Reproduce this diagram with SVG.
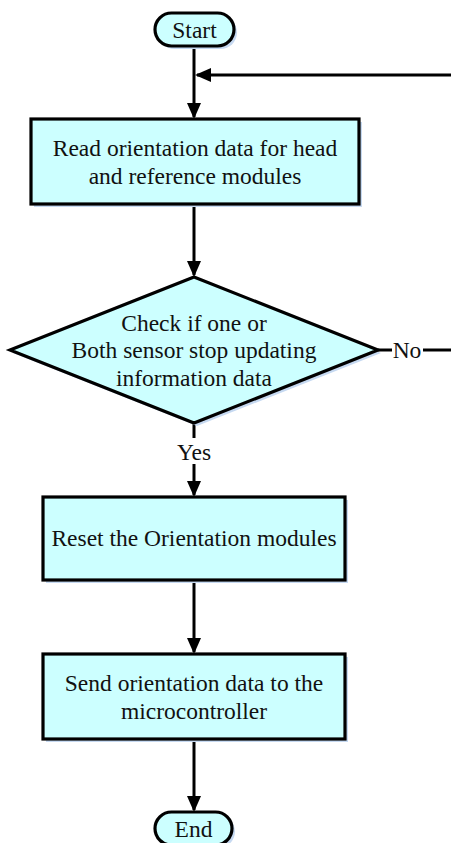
<svg xmlns="http://www.w3.org/2000/svg" width="451" height="843" viewBox="0 0 451 843">
<defs>
<style>
.shape{fill:#ccffff;stroke:#000;stroke-width:3.2}
.shadow{fill:#c6d9f1;stroke:none}
.t{font-family:"Liberation Serif","Times New Roman",serif;font-size:23.5px;fill:#111;text-anchor:middle}
.c{stroke:#000;stroke-width:3;fill:none}
</style>
<marker id="ah" markerWidth="16" markerHeight="14" refX="14" refY="7" orient="auto" markerUnits="userSpaceOnUse" viewBox="0 0 16 14">
<path d="M0,0 L16,7 L0,14 Z" fill="#000"/>
</marker>
</defs>
<rect width="451" height="843" fill="#fff"/>
<g id="connectors">
<line class="c" x1="194" y1="47" x2="194" y2="117" marker-end="url(#ah)"/>
<line class="c" x1="451" y1="75" x2="197" y2="75" marker-end="url(#ah)"/>
<line class="c" x1="194" y1="204" x2="194" y2="275" marker-end="url(#ah)"/>
<line class="c" x1="194" y1="423" x2="194" y2="438"/>
<text class="t" x="194" y="460">Yes</text>
<line class="c" x1="194" y1="464" x2="194" y2="495" marker-end="url(#ah)"/>
<line class="c" x1="378" y1="350" x2="392" y2="350"/>
<text class="t" x="407" y="358">No</text>
<line class="c" x1="423" y1="350" x2="451" y2="350"/>
<line class="c" x1="194" y1="580" x2="194" y2="652" marker-end="url(#ah)"/>
<line class="c" x1="194" y1="739" x2="194" y2="810" marker-end="url(#ah)"/>
</g>
<g id="start">
<rect class="shadow" x="158" y="16" width="79" height="33" rx="16.5"/>
<rect class="shape" x="155" y="13" width="79" height="33" rx="16.5"/>
<text class="t" x="194.5" y="38">Start</text>
</g>
<g id="read">
<rect class="shadow" x="34" y="122" width="328" height="85"/>
<rect class="shape" x="31" y="119" width="328" height="85"/>
<text class="t" x="195" y="156">Read orientation data for head</text>
<text class="t" x="195" y="184">and reference modules</text>
</g>
<g id="check">
<polygon class="shadow" points="197,280 381,353 197,426 13,353"/>
<polygon class="shape" points="194,277 378,350 194,423 10,350"/>
<text class="t" x="194" y="331">Check if one or</text>
<text class="t" x="194" y="358">Both sensor stop updating</text>
<text class="t" x="194" y="386">information data</text>
</g>
<g id="reset">
<rect class="shadow" x="46" y="500" width="302" height="83"/>
<rect class="shape" x="43" y="497" width="302" height="83"/>
<text class="t" x="194" y="546">Reset the Orientation modules</text>
</g>
<g id="send">
<rect class="shadow" x="46" y="657" width="302" height="85"/>
<rect class="shape" x="43" y="654" width="302" height="85"/>
<text class="t" x="194" y="691">Send orientation data to the</text>
<text class="t" x="194" y="719">microcontroller</text>
</g>
<g id="end">
<rect class="shadow" x="158" y="815" width="77" height="33" rx="16.5"/>
<rect class="shape" x="155" y="812" width="77" height="33" rx="16.5"/>
<text class="t" x="193.5" y="837">End</text>
</g>
</svg>
